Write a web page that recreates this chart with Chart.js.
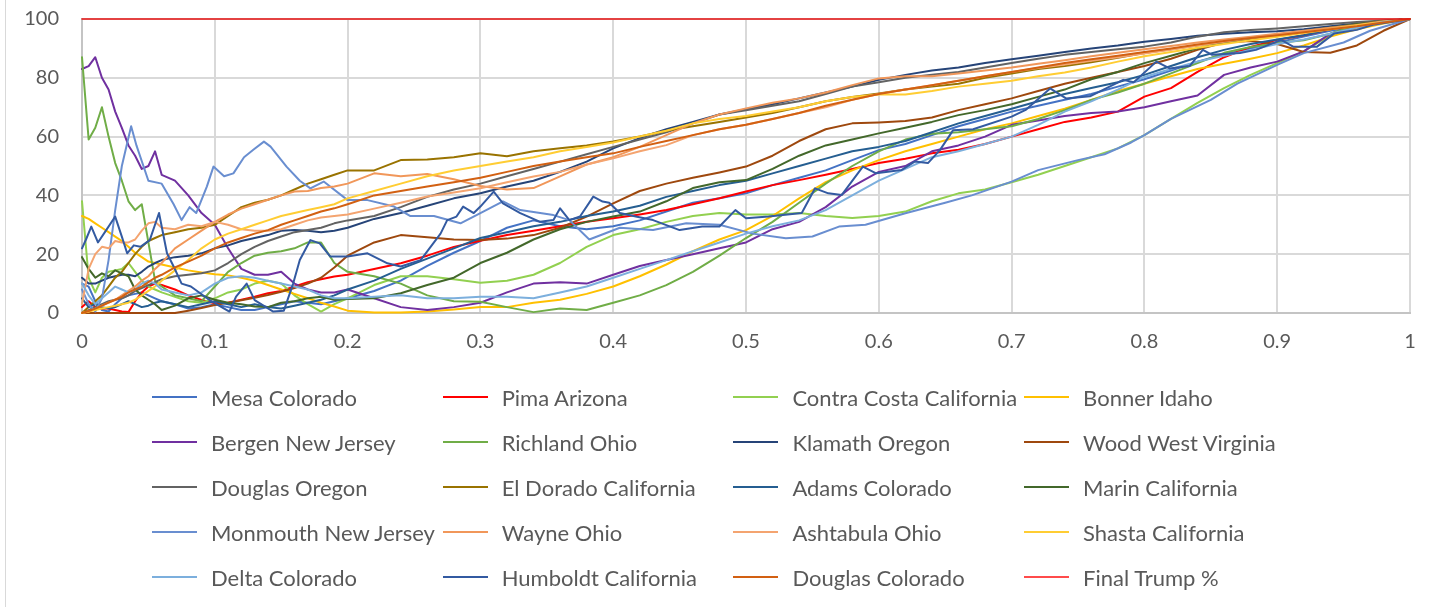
<!DOCTYPE html>
<html><head><meta charset="utf-8">
<script src="https://cdn.jsdelivr.net/npm/chart.js@4.4.1/dist/chart.umd.min.js"></script>
<style>
html,body{margin:0;padding:0;background:#fff;}
#wrap{position:relative;width:1438px;height:607px;overflow:hidden;font-family:Lato,'Liberation Sans',sans-serif;}
#frame{position:absolute;left:5px;top:0;width:1px;height:607px;background:#D9D9D9;}
canvas{position:absolute;left:0;top:0;}
#legend{position:absolute;left:0;top:0;width:1438px;height:607px;pointer-events:none;}
.li{position:absolute;height:30px;display:flex;align-items:center;white-space:nowrap;font-size:22px;color:#595959;font-family:Lato,'Liberation Sans',sans-serif;}
.sw{width:45px;height:2.5px;margin-right:14px;flex:none;}
</style></head><body>
<div id="wrap"><div id="frame"></div><canvas id="c" width="1438" height="607"></canvas><div id="legend"></div></div>
<script>
// shared x grid (fraction of counted votes)
const xGrid = [0,.005,.01,.015,.02,.025,.03,.035,.04,.045,
  .05,.055,.06,.07,.08,.09,.1,.11,.12,.13,
  .14,.15,.16,.17,.18,.19,.2,.22,.24,.26,
  .28,.3,.32,.34,.36,.38,.4,.42,.44,.46,
  .48,.5,.52,.54,.56,.58,.6,.62,.64,.66,
  .68,.7,.72,.74,.76,.78,.8,.82,.84,.86,
  .88,.9,.92,.94,.96,.98,1];

const mesaColorado = [10,9,4,1,0.5,3,5,6,6.5,7,
  6,5,4,3,1.5,2,3,2,1,1,
  2,3,4,3.5,3,4,5,7.5,11,16,
  20.5,24.5,29,31.5,29.5,28.5,29.5,31.5,34.5,37.5,
  39,40.7,43.5,46,48.5,52,55.4,57.5,60.5,63.5,
  66,68.5,70.5,72.5,74.5,77,79.5,82.5,85.5,88,
  90,92,94,96,97.5,99,100];
const pimaArizona = [2,4,2,1.5,1.5,1,0.5,0.3,4,7,
  9,10,9.5,8,6,4.4,3.3,3.5,4.5,5.5,
  6.7,7.5,9,10.5,11.5,12.4,13,15,16.9,19.5,
  22.5,24.6,26.5,28,29.5,31,32.2,33.5,35,37,
  39,41.3,43.5,45.2,47,49,51,52.5,54.3,55.5,
  57.5,60,62.5,65,66.5,68.5,73.6,76.5,82,87,
  90.5,92.9,94.5,96.5,98,99.2,100];
const contraCostaCalifornia = [38,12,7,12,14,14.5,15,17,14,11,
  9,8,7,5.5,4,3.5,5,7,8,10,
  11,10,6,3,0.5,3,5,9.5,12.5,12.5,
  11.5,10.3,11,13,17,22.5,26.5,28.5,31,33,
  34,33.5,33.5,34,33,32.3,33,34.5,38,40.7,
  42,44.5,47,50,53,56,60.5,66,71.5,76.5,
  81,85,89,94.5,97.5,99,100];
const bonnerIdaho = [33,32,30.5,29,27.5,26,24.5,22.5,20.5,19,
  17.5,17,16.5,15.5,14.5,13.8,13.2,12.8,12,11,
  9.5,8,6.5,5,3.5,2.2,0.8,0.2,0.2,0.5,
  1.2,2,2,3.5,4.5,6.5,9,12.5,16.5,21,
  25,28.2,33,39,44.5,48.5,52,55,57.5,60,
  62.5,64.5,67,69.5,72.5,75.5,78,80.5,83,84.8,
  86.5,88.4,91,94,96.5,98.5,100];
const bergenNewJersey = [83,84,87,80,76,68.5,63,57,53.5,49,
  50,55,47,45,40,34,30,22,15,13,
  13,14,10,8,7,7,8,5,2,1,
  2,3.5,7,10,10.5,10,13,16,18,20,
  22,24,28.5,31,36,43,48,50,55,57,
  60,64,65.5,67,68,68.5,70,72,74,81,
  83.5,85.5,89,95,98,99,100];
const richlandOhio = [87,59,63,70,60,51,45,38,35,37,
  24,11,9,6,5,4,9,14,17,19.5,
  20.5,21,22,24,24,17,14,12.5,10,6,
  4,3.8,2,0.3,1.5,1,3.5,6,9.5,14,
  19.5,25.5,31,37.5,44,50,55,59,61,61.5,
  62.5,63.5,66,69,72.5,75,78,81.5,85,88.5,
  90.5,91.8,92.8,95,98,99,100];
const klamathOregon = [12,10,10,11,12,12.5,13,13,12.5,14,
  15.8,17,18,19,19.5,20.3,22,23,24.5,25.5,
  26.5,28,28.2,28,27.5,28,29,32,34,36.5,
  39,40.7,43,45,48,51.5,56,59.5,62.5,65,
  67.5,69.3,71,73,75,77,79.3,81,82.5,83.5,
  85,86.3,87.5,88.8,90,91,92.3,93.2,94.3,95,
  95.5,95.8,96.5,97.5,98.5,99.3,100];
const woodWestVirginia = [0,0,0,0,0,0,0,0,0,0,
  0,0,0,0,0.8,1.7,2.7,3.5,4.3,5.2,
  6.1,7.2,8.5,10,12,15.5,19.5,24,26.5,25.8,
  25,24.8,25.3,26.5,29,32.8,37.3,41.5,44,46,
  47.8,49.8,53.5,58.5,62.5,64.5,64.8,65.3,66.5,69,
  71,73,75.5,78,80,82,84,86.5,89.5,92,
  92.5,91.5,88.8,88.5,91,96,100];
const douglasOregon = [0,1,2,3,4,4.5,5,6,7.5,8.5,
  9.5,10.5,11.5,12.5,13,13.5,14.5,17,20,22.5,
  24.5,26,27.5,28.2,29,30.5,31.5,33,36,39.5,
  42,44,46.5,49,51.5,54,56.5,59,61.5,64.5,
  67.5,69,70.5,72,74.5,77,78.5,80,81,82,
  83.5,85,86.5,87.8,88.8,89.7,90.6,92,94,95.5,
  96.3,96.8,97.5,98.3,99,99.5,100];
const elDoradoCalifornia = [0,2,4,6,9,12,14,17,20,22.5,
  24.5,25.5,26.5,27.5,28.5,29,30,33,36,37.5,
  38.5,40,42,44,45.5,47,48.5,48.5,52,52.2,
  53,54.3,53.3,55,56,57,58.3,60,62,63.5,
  65,66.5,68,70,72,73.5,74.7,76,77,78,
  80,81.5,83,84,85.3,86.8,88.4,89.7,91,92.3,
  93.5,94.6,95.8,97,98.2,99.2,100];
const adamsColorado = [5,2,3,2,1.5,2,3,4,3,2,
  2.5,3.5,4,3,2,3,4,3,2,3,
  2,1.5,2.5,3.5,4.5,6,8,11,15,18.5,
  22,25.5,27.5,29.5,31,33,34.5,36.5,39.5,41.5,
  43.5,45,47.5,50,52.5,55,56.5,58.5,61.5,64.5,
  67,69.5,72,74.5,76.5,78.5,81,84,87,89.5,
  91.5,93,94.5,96.5,98,99,100];
const marinCalifornia = [19,15,12,13.5,12.5,14.5,13.5,12.5,8,6,
  4.5,3,1,2.5,5,6,4.5,3.5,3,2.2,
  2,3.5,4,5,5.5,4.5,4.8,5,6.7,9.5,
  12,17,20.5,25,28.5,31,32.8,34.5,38,42.5,
  44.5,45.2,49,53.5,57,59,61.1,63,65,67.3,
  69,71,73.5,76,79.5,82,85,87.5,90,92,
  93.3,94.6,95.8,97,98.2,99.2,100];
const wayneOhio = [0,0.5,1.5,2.5,3.5,4.5,6,7.5,9,11,
  12.5,15,17,22,25,28,31,33.5,35.5,37,
  38.5,40,41.3,41.5,42.5,43,44,47.5,46.5,47.3,
  45.5,43.2,42,42.5,46.5,50.5,53,56.5,60.5,64.5,
  67.5,69.6,71.5,73,75,77.5,79.8,80.5,80.5,81.5,
  82.5,83.5,84.8,86,87.3,88.5,89.7,90.8,92,93,
  94,95,96,97,98,99.2,100];
const ashtabulaOhio = [3,15,20,22.5,22,24.5,24,24,25,28,
  30.5,31,29,28.5,30,29.5,31,30,28.5,28,
  28,28.5,30,31.5,32.5,33,33.5,35.5,37.5,39.6,
  41,42.4,44.5,46.4,48,50.5,52.6,55,57.1,60.5,
  62.5,64,66,68,70,72.5,74.5,76,77.5,79,
  80.5,82,83.3,84.5,85.8,87,88.3,89.5,91,92.3,
  93.5,94.5,95.5,96.5,97.7,98.9,100];
const shastaCalifornia = [0,0.5,1,1.5,2,2.5,3,3.5,4.5,6,
  7.5,9,11,14.5,18,22,25,27,28.5,30,
  31.5,33,34,35,36,37,39,41.5,44,46.5,
  48.5,50,51.5,53,55,56.5,58,60,62,64.5,
  66,67,68.5,70,72,73.5,74.3,74.3,75.5,77,
  78,79,80.5,81.8,83.5,85.5,87.3,88.8,90.2,91.5,
  92.8,94,95.2,96.5,97.8,99,100];
const deltaColorado = [10,6,3,5,7,9,8,7,8,10,
  11,10,8,7,6,7,10,12,12.5,12,
  11,10,9,8,6,5,5,5.5,6,5,
  5,5.5,5.5,5,7,9,12,15,18,21,
  24,27,29.5,31.5,35,40,45,49,53,55,
  57.5,60,64,68.5,72,76,80.3,83,85.5,87.5,
  89.5,91.5,93,95,97,99,100];
const douglasColorado = [0,0.7,1.5,2.5,3.5,4.5,5.5,7,8,9,
  10.5,12,13,15.5,17.5,19.5,22,24,25.5,27,
  28.2,30,31.5,33,34.5,35.6,37,40,41.5,43,
  44.5,46,48,50,51.5,53,54.3,56.5,58.5,60.5,
  62.5,64,66,68,70.5,72.5,74.5,76,77.5,79,
  80.5,82,83.5,85,86.3,87.5,88.8,90,91.3,92.5,
  93.5,94.5,95.5,96.5,97.5,98.8,100];

// series with their own (finer) x positions
const monmouthX = [0,.005,.01,.015,.02,.025,.03,.037,.041,.05,
  .06,.069,.075,.081,.086,.094,.099,.107,.114,.122,
  .129,.137,.142,.154,.164,.172,.182,.2,.215,.235,
  .247,.265,.285,.3,.317,.33,.355,.367,.382,.405,
  .43,.455,.48,.505,.53,.55,.57,.59,.62,.65,
  .67,.7,.72,.75,.77,.79,.8,.82,.85,.87,
  .9,.92,.95,.97,1];
const monmouthNewJersey = [8,3,0.5,5,18,35,50,63.5,57,45,
  44,37,31.6,36,34,43,49.8,46.5,47.5,53,
  55.5,58.3,56.6,49.8,45,42.4,44.7,38.4,38.4,36.2,
  33,33,30.5,34,38,35,33.3,31.6,25,29,
  28.2,30.5,30,27,25.4,26,29.4,30,33.9,37.5,
  40,44.7,48.6,52,54,58,60.5,66,72.5,78,
  84.4,88.4,92,96,100];
const humboldtX = [0,.003,.007,.012,.018,.025,.03,.034,.039,.044,
  .051,.058,.064,.069,.075,.082,.096,.111,.116,.124,
  .13,.144,.152,.159,.164,.172,.179,.187,.2,.215,
  .23,.24,.255,.27,.275,.282,.287,.295,.3,.31,
  .317,.33,.345,.355,.36,.367,.375,.385,.392,.397,
  .405,.417,.43,.45,.467,.48,.492,.5,.517,.542,
  .552,.562,.572,.588,.598,.617,.627,.637,.646,.656,
  .671,.7,.711,.729,.741,.759,.784,.792,.809,.819,
  .834,.844,.851,.872,.884,.903,.912,.93,.943,.96,
  .972,1];
const humboldtCalifornia = [22,25,29.4,24,28,32.8,26,20.3,23,22.5,
  24.8,34,20.3,15.8,10,9,4.4,0.5,5.6,10,
  4.4,0.5,0.8,10,18,24.8,23.7,19.2,19.2,20.3,
  16.9,15.8,18,27,31.6,32.8,36.2,34,36.2,41.3,
  37.3,34,31,31.6,35.6,31.6,32.8,39.6,37.9,37.5,
  34,32.8,31.6,28.2,29.4,29.4,35,32.2,32.8,34,
  42.4,40.7,40.1,49.8,47.5,48.6,51.5,51,55.4,62.2,
  62.5,66.8,69.2,76.4,73,73.7,79.3,78.5,85.5,83.2,
  84,89.5,87.8,88.4,89.5,92.9,90.6,90.6,95.1,96.3,
  98,100];
const finalTrumpX = [0, 1];
const finalTrumpPct = [100, 100];

// tick values
const xTicks = [0,0.1,0.2,0.3,0.4,0.5,0.6,0.7,0.8,0.9,1];
const yTicks = [0,20,40,60,80,100];

const seriesNames = ['Mesa Colorado','Pima Arizona','Contra Costa California','Bonner Idaho',
  'Bergen New Jersey','Richland Ohio','Klamath Oregon','Wood West Virginia',
  'Douglas Oregon','El Dorado California','Adams Colorado','Marin California',
  'Monmouth New Jersey','Wayne Ohio','Ashtabula Ohio','Shasta California',
  'Delta Colorado','Humboldt California','Douglas Colorado','Final Trump %'];
const seriesX = [xGrid,xGrid,xGrid,xGrid,xGrid,xGrid,xGrid,xGrid,xGrid,xGrid,xGrid,xGrid,
  monmouthX,xGrid,xGrid,xGrid,xGrid,humboldtX,xGrid,finalTrumpX];
const seriesY = [mesaColorado,pimaArizona,contraCostaCalifornia,bonnerIdaho,
  bergenNewJersey,richlandOhio,klamathOregon,woodWestVirginia,
  douglasOregon,elDoradoCalifornia,adamsColorado,marinCalifornia,
  monmouthNewJersey,wayneOhio,ashtabulaOhio,shastaCalifornia,
  deltaColorado,humboldtCalifornia,douglasColorado,finalTrumpPct];
const seriesColors = ['#4472C4','#FF0000','#92D050','#FFC000',
  '#7030A0','#70AD47','#264478','#9E480E',
  '#636363','#997300','#255E91','#43682B',
  '#698ED0','#F1975A','#F4A470','#FFCD33',
  '#7CAFDD','#335AA1','#D26012','#FF4B4B'];
const lineColors = seriesColors.slice(0, 19).concat(['#E81010']);
const lineWidths = seriesNames.map((n, i) => i === 19 ? 1.5 : 2);

const datasets = seriesNames.map((name, i) => {
  const xs = seriesX[i], ys = seriesY[i];
  const n = Math.min(xs.length, ys.length);
  const data = [];
  for (let k = 0; k < n; k++) data.push({x: xs[k], y: ys[k]});
  return {
    label: name, data,
    borderColor: lineColors[i], backgroundColor: lineColors[i],
    borderWidth: lineWidths[i], pointRadius: 0, tension: 0, fill: false,
    borderJoinStyle: 'round', borderCapStyle: 'round',
    clip: 4,
    order: -i
  };
});

const tickFont = {family: 'Lato', size: 20};
new Chart(document.getElementById('c'), {
  type: 'line',
  data: {datasets},
  options: {
    responsive: false, animation: false,
    layout: {padding: {left: 0, right: 28, top: 19, bottom: 254}},
    plugins: {legend: {display: false}, tooltip: {enabled: false}},
    scales: {
      x: {
        type: 'linear', min: 0, max: 1,
        afterBuildTicks: s => { s.ticks = xTicks.map(v => ({value: v})); },
        ticks: {padding: 17, color: '#595959', font: tickFont, maxRotation: 0, autoSkip: false,
                callback: v => String(Math.round(v * 10) / 10)},
        grid: {color: '#D9D9D9', lineWidth: 2, drawTicks: false},
        border: {color: '#C4C4C4', width: 2},
        afterFit: s => { s.height = 40; s.paddingLeft = 0; s.paddingRight = 0; }
      },
      y: {
        min: 0, max: 100,
        afterBuildTicks: s => { s.ticks = yTicks.map(v => ({value: v})); },
        ticks: {padding: 23, color: '#595959', font: tickFont},
        grid: {color: '#D9D9D9', lineWidth: 2, drawTicks: false},
        border: {color: '#C4C4C4', width: 2},
        afterFit: s => { s.width = 82; s.paddingTop = 0; s.paddingBottom = 0; }
      }
    }
  }
});

// legend: 4 columns x 5 rows, row-major like the original
const legend = document.getElementById('legend');
seriesNames.forEach((name, i) => {
  const col = i % 4, row = Math.floor(i / 4);
  const d = document.createElement('div');
  d.className = 'li';
  d.style.left = (152 + col * 290.7) + 'px';
  d.style.top = (397 + row * 45 - 15) + 'px';
  const sw = document.createElement('span');
  sw.className = 'sw';
  sw.style.background = seriesColors[i];
  const t = document.createElement('span');
  t.textContent = name;
  d.appendChild(sw); d.appendChild(t);
  legend.appendChild(d);
});
</script>
</body></html>
